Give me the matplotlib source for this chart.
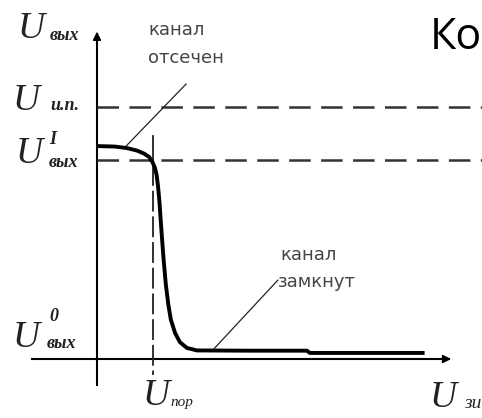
import numpy as np
import matplotlib
matplotlib.use("Agg")
import matplotlib.pyplot as plt

plt.rcParams['lines.scale_dashes'] = False

# transfer characteristic (arbitrary volts), U_пор = 2, U_ип = 10
u_zi = [0.0, 0.64, 1.07, 1.43, 1.68, 1.86, 1.98, 2.07, 2.13, 2.18, 2.23,
        2.30, 2.38, 2.46, 2.55, 2.64, 2.79, 2.96, 3.21, 3.57, 5.46, 7.5,
        7.6, 11.7]
u_out = [8.45, 8.43, 8.37, 8.27, 8.15, 8.02, 7.82, 7.58, 7.30, 6.85, 6.25,
         5.12, 3.93, 2.94, 2.14, 1.55, 1.03, 0.67, 0.44, 0.34, 0.33, 0.33,
         0.24, 0.24]
u_ip = 10.0
u_out1 = 7.9
u_por = 2.0

fig = plt.figure(figsize=(4.82, 4.18), dpi=100)
ax = fig.add_axes([0, 0, 1, 1])
ax.set_xlim(-3.464, 13.75)
ax.set_ylim(-2.341, 14.246)
ax.axis('off')

# axes with arrows
ax.plot([0, 0], [-1.03, 12.9], color='black', lw=1.5)
ax.plot([-2.32, 12.5], [0, 0], color='black', lw=1.5)
ax.annotate('', xy=(0, 13.1), xytext=(0, 12.4),
            arrowprops=dict(arrowstyle='-|>', color='black', lw=1.2, mutation_scale=12))
ax.annotate('', xy=(12.75, 0), xytext=(12.2, 0),
            arrowprops=dict(arrowstyle='-|>', color='black', lw=1.2, mutation_scale=12))

# dashed levels
ax.plot([0, 13.75], [u_ip, u_ip], color='#333333', lw=1.8, dashes=(15.5, 7.5))
ax.plot([0, 13.75], [u_out1, u_out1], color='#333333', lw=1.8, dashes=(15.5, 7.5))
ax.plot([u_por, u_por], [8.85, 7.7], color='#222222', lw=1.3)
ax.plot([u_por, u_por], [7.7, -0.63], color='#222222', lw=1.3, dashes=(15, 3.5))

# characteristic
ax.plot(u_zi, u_out, color='black', lw=2.8, solid_capstyle='butt', solid_joinstyle='round')

# leaders
ax.plot([3.18, 1.04], [10.91, 8.45], color='#222222', lw=0.9)
ax.plot([6.46, 4.14], [3.13, 0.36], color='#222222', lw=0.9)

small = dict(color='#444444', fontsize=13, family='DejaVu Sans')
ax.text(1.82, 13.06, 'канал', va='center', ha='left', **small)
ax.text(1.82, 11.94, 'отсечен', va='center', ha='left', **small)
ax.text(6.54, 4.13, 'канал', va='center', ha='left', **small)
ax.text(6.47, 3.06, 'замкнут', va='center', ha='left', **small)

big = dict(family='Liberation Serif', style='italic', fontsize=27, color='#222222')
sub = dict(family='Liberation Serif', style='italic', weight='bold', fontsize=13, color='#222222')

ax.text(-2.82, 12.74, 'U', va='baseline', **big)
ax.text(-1.68, 12.66, 'вых', va='baseline', **sub)

ax.text(-3.0, 9.88, 'U', va='baseline', **big)
ax.text(-1.68, 9.88, 'и.п.', va='baseline', **sub)

ax.text(-2.9, 7.78, 'U', va='baseline', **big)
ax.text(-1.7, 8.55, 'I', va='baseline', **sub)
ax.text(-1.72, 7.62, 'вых', va='baseline', **sub)

ax.text(-3.0, 0.48, 'U', va='baseline', **big)
ax.text(-1.7, 1.5, '0', va='baseline', **sub)
ax.text(-1.8, 0.45, 'вых', va='baseline', **sub)

ax.text(1.61, -1.84, 'U', va='baseline', **big)
ax.text(2.64, -1.87, 'пор', va='baseline', **dict(sub, fontsize=11, weight='normal'))

ax.text(11.89, -1.90, 'U', va='baseline', **big)
ax.text(13.1, -1.95, 'зи', va='baseline', **dict(sub, fontsize=14, weight='normal'))

ax.text(11.89, 12.74, 'Ко', va='center', ha='left', family='Open Sans', fontsize=31, color='black')

fig.savefig('out.png', dpi=100)
